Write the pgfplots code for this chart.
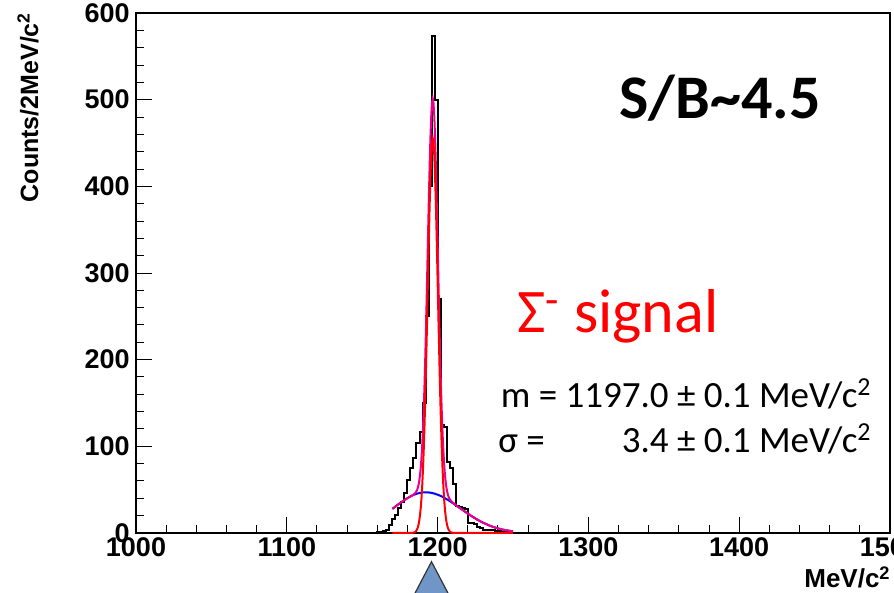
\documentclass[border=0pt]{standalone}
\usepackage{fontspec}
\setmainfont{Liberation Sans}
\newfontfamily\carlito{Carlito}
\usepackage{pgfplots}
\pgfplotsset{compat=1.18}
\definecolor{tri}{RGB}{112,150,200}
\begin{document}
\begin{tikzpicture}
\begin{axis}[
  at={(68pt,30pt)}, anchor=south west,
  scale only axis, width=377pt, height=260pt,
  xmin=1000, xmax=1500, ymin=0, ymax=600,
  xtick={1000,1100,1200,1300,1400,1500},
  ytick={0,100,200,300,400,500,600},
  minor x tick num=4, minor y tick num=4,
  tick align=inside, tick pos=left,
  major tick length=8pt, minor tick length=4pt,
  axis line style={line width=0.7pt},
  every tick/.style={black, line width=0.5pt},
  /pgf/number format/assume math mode=true,
  /pgf/number format/1000 sep={},
  scaled ticks=false,
  ticklabel style={font=\bfseries\fontsize{13.5}{13.5}\selectfont, inner sep=0pt},
  xticklabel style={yshift=-2pt},
  yticklabel style={xshift=-3pt},
  clip=false,
]
% histogram
\addplot[const plot, black, line width=1pt] coordinates {
(1000,0)(1160,1)(1162,1)(1164,2)(1166,4)(1168,9)(1170,16)(1172,21)(1174,29)(1176,36)(1178,46)
(1180,61)(1182,75)(1184,86)(1186,104)(1188,117)(1190,150)(1192,250)(1194,400)(1196,573)(1198,500)
(1200,270)(1202,125)(1204,122)(1206,82)(1208,75)(1210,57)(1212,31)(1214,30)(1216,29)(1218,28)
(1220,12)(1222,11)(1224,10)(1226,7)(1228,6)(1230,4)(1232,4)(1234,3)(1236,3)(1238,2)(1240,2)
(1242,1)(1244,1)(1246,1)(1248,0)(1500,0)};
% background
\addplot[blue, line width=1pt] coordinates {
(1170,27.8)(1172,30.5)(1174,33.1)(1176,35.6)(1178,38.0)(1180,40.2)(1182,42.2)(1184,43.9)(1186,45.2)
(1188,46.2)(1190,46.8)(1192,47.0)(1194,46.8)(1196,46.3)(1198,45.4)(1200,44.2)(1202,42.8)(1204,41.0)
(1206,39.0)(1208,36.9)(1210,34.6)(1212,32.2)(1214,29.7)(1216,27.3)(1218,24.8)(1220,22.4)(1222,20.1)
(1224,17.9)(1226,15.8)(1228,13.8)(1230,12.0)(1232,10.4)(1234,8.9)(1236,7.5)(1238,6.4)(1240,5.3)
(1242,4.4)(1244,3.6)(1246,3.0)(1248,2.4)(1250,2.0)};
% total
\addplot[magenta, line width=1pt] coordinates {
(1170,27.8)(1172,30.5)(1174,33.1)(1176,35.6)(1178,38.0)(1180,40.2)(1182,42.2)(1183.8,44.0)
(1184.8,45.4)(1185.3,46.3)(1185.8,47.5)(1186.3,49.3)(1186.8,51.6)(1187.3,55.0)(1187.8,59.8)
(1188.3,66.3)(1188.8,75.0)(1189.3,86.4)(1189.8,101.4)(1190.3,120.0)(1190.8,142.8)(1191.3,169.9)
(1191.8,201.3)(1192.3,236.5)(1192.8,274.8)(1193.3,314.8)(1193.8,355.2)(1194.3,394.1)(1194.8,429.4)
(1195.3,459.4)(1195.8,482.3)(1196.3,496.5)(1196.8,501.1)(1197.3,495.8)(1197.8,481.3)(1198.3,458.1)
(1198.8,427.7)(1199.3,392.0)(1199.8,352.7)(1200.3,311.9)(1200.8,271.4)(1201.3,232.8)(1201.8,197.2)
(1202.3,165.5)(1202.8,137.9)(1203.3,114.8)(1203.8,95.9)(1204.3,80.7)(1204.8,68.9)(1205.3,59.8)
(1205.8,53.1)(1206.3,48.1)(1206.8,44.4)(1207.3,41.8)(1207.8,39.8)(1208.3,38.4)(1208.8,37.3)
(1209.8,35.5)(1210.8,34.1)(1212,32.2)(1214,29.7)(1216,27.3)(1218,24.8)(1220,22.4)(1222,20.1)
(1224,17.9)(1226,15.8)(1228,13.8)(1230,12.0)(1232,10.4)(1234,8.9)(1236,7.5)(1238,6.4)(1240,5.3)
(1242,4.4)(1244,3.6)(1246,3.0)(1248,2.4)(1250,2.0)};
% signal
\addplot[red, line width=1pt] coordinates {
(1170,0)(1182,0)(1182.8,0.1)(1183.8,0.3)(1184.8,0.9)(1185.3,1.5)(1185.8,2.4)(1186.3,3.9)(1186.8,6.0)
(1187.3,9.2)(1187.8,13.7)(1188.3,20.0)(1188.8,28.6)(1189.3,39.9)(1189.8,54.7)(1190.3,73.2)(1190.8,95.9)
(1191.3,123.0)(1191.8,154.3)(1192.3,189.5)(1192.8,227.8)(1193.3,267.9)(1193.8,308.3)(1194.3,347.3)
(1194.8,382.7)(1195.3,412.8)(1195.8,435.8)(1196.3,450.1)(1196.8,455.0)(1197.3,450.1)(1197.8,435.8)
(1198.3,412.8)(1198.8,382.7)(1199.3,347.3)(1199.8,308.3)(1200.3,267.9)(1200.8,227.8)(1201.3,189.5)
(1201.8,154.3)(1202.3,123.0)(1202.8,95.9)(1203.3,73.2)(1203.8,54.7)(1204.3,39.9)(1204.8,28.6)
(1205.3,20.0)(1205.8,13.7)(1206.3,9.2)(1206.8,6.0)(1207.3,3.9)(1207.8,2.4)(1208.3,1.5)(1208.8,0.9)
(1209.8,0.3)(1210.8,0.1)(1212,0)(1250,0)};
\end{axis}
\begin{scope}[x=0.5pt,y=0.5pt]
\node[rotate=90, anchor=east, font=\bfseries\fontsize{12.5}{13}\selectfont, inner sep=0pt] at (28,581) {Counts/2MeV/c\textsuperscript{2}};
\node[anchor=base east, font=\bfseries\fontsize{13}{13}\selectfont, inner sep=0pt] at (891,5) {MeV/c\textsuperscript{2}};
\node[anchor=base, font=\carlito\bfseries\fontsize{31}{31}\selectfont, inner sep=0pt] at (720,474) {S/B\char`~4.5};
\node[anchor=base west, font=\carlito\fontsize{31}{31}\selectfont, text=red, inner sep=0pt] at (517,260) {Σ\textsuperscript{-} signal};
\node[anchor=base east, font=\carlito\fontsize{18.5}{18.5}\selectfont, inner sep=0pt] at (872,185) {m = 1197.0 ± 0.1 MeV/c\textsuperscript{2}};
\node[anchor=base west, font=\carlito\fontsize{18.5}{18.5}\selectfont, inner sep=0pt] at (498,140) {σ =};
\node[anchor=base east, font=\carlito\fontsize{18.5}{18.5}\selectfont, inner sep=0pt] at (872,140) {3.4 ± 0.1 MeV/c\textsuperscript{2}};
\filldraw[fill=tri, draw=black!80, line width=0.6pt] (413,-4) -- (431.5,31.3) -- (450,-4) -- cycle;
\end{scope}
\pgfresetboundingbox
\useasboundingbox (0,0) rectangle (447pt,296.5pt);
\end{tikzpicture}
\end{document}
